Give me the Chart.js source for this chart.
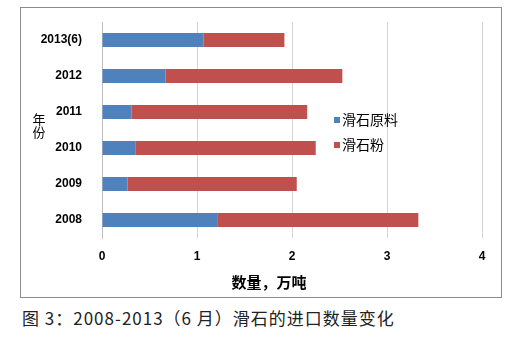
<!DOCTYPE html>
<html>
<head>
<meta charset="utf-8">
<script src="https://cdn.jsdelivr.net/npm/chart.js@4"></script>
<style>
    body { margin: 0; background: #fff; width: 530px; height: 344px; position: relative; overflow: hidden; }
    #box { position: absolute; left: 20px; top: 7px; width: 480px; height: 289px; border: 1px solid #8c8c8c; }
    #caption { position: absolute; left: 22px; top: 305px; font-family: "Noto Sans CJK SC"; font-size: 17px; letter-spacing: 1px; color: #222; white-space: nowrap; }
</style>
</head>
<body>
<div id="box"><canvas id="myChart" width="480" height="289"></canvas></div>
<div id="caption">图 3：2008-2013（6 月）滑石的进口数量变化</div>
<script>
const years = ['2008', '2009', '2010', '2011', '2012', '2013(6)'];
const rawTalc = [1.22, 0.27, 0.35, 0.31, 0.67, 1.07];
const talcPowder = [2.11, 1.78, 1.90, 1.85, 1.86, 0.85];
const xTicks = [0, 1, 2, 3, 4];
const seriesNames = ['滑石原料', '滑石粉'];

const sideText = {
    id: 'sideText',
    afterDraw(chart) {
        const ctx = chart.ctx;
        const area = chart.chartArea;
        ctx.save();
        ctx.fillStyle = '#000';
        ctx.textBaseline = 'middle';

        // y title, characters stacked
        ctx.font = '13px "Noto Sans CJK SC"';
        ctx.textAlign = 'center';
        ctx.fillText('年', 18, area.top + 97);
        ctx.fillText('份', 18, area.top + 110);

        // x title
        ctx.font = 'bold 15px "Noto Sans CJK SC"';
        ctx.fillText('数量，万吨', area.left + 167, area.bottom + 44);

        // legend inside the plot
        ctx.textAlign = 'left';
        ctx.font = '14px "Noto Sans CJK SC"';
        chart.data.datasets.forEach((ds, i) => {
            const y = area.top + 98 + i * 25;
            ctx.fillStyle = ds.backgroundColor;
            ctx.fillRect(area.left + 232, y - 3, 6, 6);
            ctx.fillStyle = '#000';
            ctx.fillText(ds.label, area.left + 240, y);
        });
        ctx.restore();
    }
};

const ctx = document.getElementById('myChart').getContext('2d');
const myChart = new Chart(ctx, {
    type: 'bar',
    data: {
        labels: years,
        datasets: [{
            label: seriesNames[0],
            data: rawTalc,
            backgroundColor: '#4F81BD'
        }, {
            label: seriesNames[1],
            data: talcPowder,
            backgroundColor: '#C0504D'
        }]
    },
    options: {
        indexAxis: 'y',
        responsive: false,
        animation: false,
        categoryPercentage: 1,
        barPercentage: 0.39,
        layout: {
            padding: { top: 14, right: 19, left: 0, bottom: 0 }
        },
        plugins: {
            legend: { display: false },
            tooltip: { enabled: false }
        },
        scales: {
            x: {
                stacked: true,
                min: 0,
                max: 4,
                afterBuildTicks: function (scale) {
                    scale.ticks = xTicks.map(v => ({ value: v }));
                },
                afterFit: function (scale) {
                    scale.height = 59;
                },
                grid: {
                    color: '#d4d4d4',
                    drawTicks: false
                },
                border: { display: false },
                ticks: {
                    padding: 11,
                    color: '#000',
                    font: { family: 'Liberation Sans', weight: 'bold', size: 12 }
                }
            },
            y: {
                stacked: true,
                reverse: true,
                afterFit: function (scale) {
                    scale.width = 81;
                    scale.paddingTop = 0;
                    scale.paddingBottom = 0;
                },
                grid: { display: false },
                border: { color: '#bfbfbf' },
                ticks: {
                    padding: 12,
                    color: '#000',
                    font: { family: 'Liberation Sans', weight: 'bold', size: 12 }
                }
            }
        }
    },
    plugins: [sideText]
});
</script>
</body>
</html>
